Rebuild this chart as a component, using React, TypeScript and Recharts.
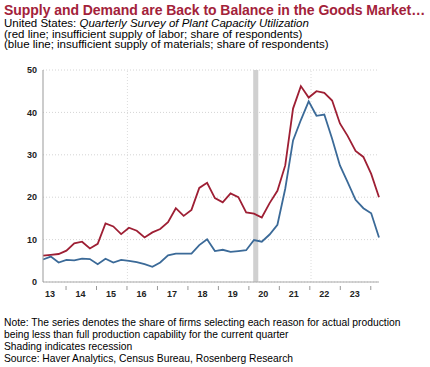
import React from 'react';
import {
  LineChart, Line, XAxis, YAxis, CartesianGrid, ReferenceArea, ReferenceLine,
} from 'recharts';

// quarterly, 2013Q1 .. 2023Q4
const QUARTERS = [
  '2013Q1', '2013Q2', '2013Q3', '2013Q4', '2014Q1', '2014Q2', '2014Q3', '2014Q4',
  '2015Q1', '2015Q2', '2015Q3', '2015Q4', '2016Q1', '2016Q2', '2016Q3', '2016Q4',
  '2017Q1', '2017Q2', '2017Q3', '2017Q4', '2018Q1', '2018Q2', '2018Q3', '2018Q4',
  '2019Q1', '2019Q2', '2019Q3', '2019Q4', '2020Q1', '2020Q2', '2020Q3', '2020Q4',
  '2021Q1', '2021Q2', '2021Q3', '2021Q4', '2022Q1', '2022Q2', '2022Q3', '2022Q4',
  '2023Q1', '2023Q2', '2023Q3', '2023Q4',
];

// insufficient supply of labor (red)
const LABOR = [
  6.2, 6.4, 6.6, 7.4, 9.1, 9.5, 7.9, 9.0, 13.8, 13.1, 11.3, 12.8,
  12.1, 10.5, 11.7, 12.5, 14.1, 17.4, 15.6, 17.0, 22.2, 23.4, 19.8, 18.8,
  20.9, 20.0, 16.4, 16.1, 15.2, 18.6, 21.5, 27.5, 40.9, 46.2, 43.5, 45.0,
  44.6, 42.8, 37.4, 34.4, 30.9, 29.5, 25.5, 20.0,
];

// insufficient supply of materials (blue)
const MATERIALS = [
  5.3, 6.0, 4.6, 5.2, 5.1, 5.5, 5.4, 4.2, 5.5, 4.6, 5.2, 5.0,
  4.7, 4.2, 3.6, 4.6, 6.3, 6.7, 6.7, 6.7, 8.7, 10.1, 7.3, 7.6,
  7.1, 7.3, 7.5, 9.9, 9.5, 11.2, 13.5, 22.0, 33.4, 38.2, 42.6, 39.2,
  39.5, 33.8, 27.5, 23.5, 19.4, 17.4, 16.2, 10.5,
];

const YEAR_LABELS = ['13', '14', '15', '16', '17', '18', '19', '20', '21', '22', '23'];
const Y_TICKS = [0, 10, 20, 30, 40, 50];

const data = QUARTERS.map((q, i) => ({ i, q, labor: LABOR[i], materials: MATERIALS[i] }));
// year labels sit a little into each year, as in the original chart
const xTicks = YEAR_LABELS.map((_, k) => 0.9 + k * 3.9);

const RED = '#9e1f34';
const BLUE = '#3b6a98';

const YearTick = (props: any) => {
  const { x, y, index } = props;
  return (
    <g>
      <line x1={x + 16} x2={x + 16} y1={y - 4} y2={y} stroke="#999" strokeWidth={1} />
      <text x={x} y={y + 7} textAnchor="middle" fontSize={9} fontWeight="bold" fill="#222">
        {YEAR_LABELS[index]}
      </text>
    </g>
  );
};

export default function App() {
  return (
    <div style={{
      position: 'absolute', left: 0, top: 0, width: 430, height: 367,
      background: '#fff', fontFamily: '"Liberation Sans", Arial, sans-serif', color: '#000',
    }}>
      <div style={{
        position: 'absolute', left: 4, top: 2, fontSize: 14, fontWeight: 'bold',
        color: '#a3223a', whiteSpace: 'nowrap', letterSpacing: -0.05,
      }}>
        Supply and Demand are Back to Balance in the Goods Market…
      </div>
      <div style={{ position: 'absolute', left: 4, top: 18, fontSize: 11.5, lineHeight: '10.6px', whiteSpace: 'nowrap' }}>
        <div>United States: <i>Quarterly Survey of Plant Capacity Utilization</i></div>
        <div>(red line; insufficient supply of labor; share of respondents)</div>
        <div>(blue line; insufficient supply of materials; share of respondents)</div>
      </div>

      <div style={{ position: 'absolute', left: 0, top: 60 }}>
        <LineChart width={430} height={250} data={data} margin={{ top: 10, right: 51, bottom: 8, left: 0 }}>
          <CartesianGrid vertical={false} stroke="#d4d4d4" strokeDasharray="1 2" />
          <ReferenceLine x={10.8} stroke="#dcdcdc" strokeDasharray="1 2" />
          <ReferenceLine x={34.3} stroke="#dcdcdc" strokeDasharray="1 2" />
          <ReferenceArea x1={26.9} x2={27.55} y1={0} y2={50} fill="#d0d0d0" fillOpacity={1} stroke="none" />
          <XAxis
            dataKey="i"
            type="number"
            domain={[0, 43]}
            ticks={xTicks}
            interval={0}
            tick={<YearTick />}
            tickLine={false}
            axisLine={{ stroke: '#aaa' }}
            height={20}
          />
          <YAxis
            type="number"
            domain={[0, 50]}
            ticks={Y_TICKS}
            width={43}
            tickLine={false}
            tickSize={4}
            tickMargin={2}
            axisLine={{ stroke: '#999' }}
            tick={{ fontSize: 9, fontWeight: 'bold', fill: '#222' }}
          />
          <Line dataKey="labor" stroke={RED} strokeWidth={1.8} dot={false} type="linear" isAnimationActive={false} />
          <Line dataKey="materials" stroke={BLUE} strokeWidth={1.8} dot={false} type="linear" isAnimationActive={false} />
        </LineChart>
      </div>

      <div style={{ position: 'absolute', left: 4, top: 317, fontSize: 10.3, lineHeight: '12.1px', whiteSpace: 'nowrap' }}>
        <div>Note: The series denotes the share of firms selecting each reason for actual production</div>
        <div>being less than full production capability for the current quarter</div>
        <div>Shading indicates recession</div>
        <div>Source: Haver Analytics, Census Bureau, Rosenberg Research</div>
      </div>
    </div>
  );
}
